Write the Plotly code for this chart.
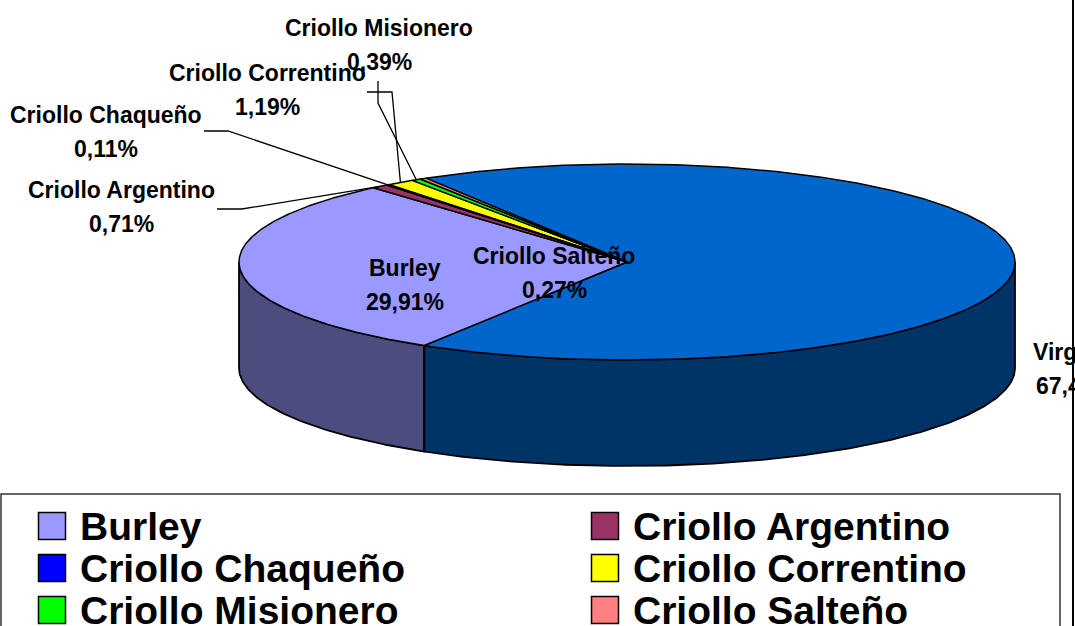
import math
import plotly.graph_objects as go

# ---------------- data ----------------
categories = ["Burley", "Criollo Argentino", "Criollo Chaqueño", "Criollo Correntino",
              "Criollo Misionero", "Criollo Salteño", "Virginia"]
shares = [29.91, 0.71, 0.11, 1.19, 0.39, 0.27, 67.42]
pct_labels = ["29,91%", "0,71%", "0,11%", "1,19%", "0,39%", "0,27%", "67,42%"]
colors = ["#9999FF", "#993366", "#0000FF", "#FFFF00", "#00FF00", "#FF8080", "#0066CC"]

# ---------------- style / layout constants ----------------
W, H = 1075, 626
CX, CY, RX, RY, DEPTH = 627, 262, 388, 98, 106
START_DEG = 121.5          # angle of first slice (screen, clockwise)
FONT = "Liberation Sans, Arial, sans-serif"
LBL_SIZE = 23
LEG_SIZE = 39

# label anchor (center of name line) and leader path start points
label_pos = {
    "Burley": None,  # inside
    "Criollo Argentino": (121, 190),
    "Criollo Chaqueño": (106, 115),
    "Criollo Correntino": (267, 73),
    "Criollo Misionero": (379, 28),
    "Criollo Salteño": (554, 256),
    "Virginia": (1075, 352),
}
leader_start = {
    "Criollo Argentino": [(217, 209), (242, 209)],
    "Criollo Chaqueño": [(204, 131), (228, 131)],
    "Criollo Correntino": [(367, 92), (392, 92)],
    "Criollo Misionero": [(378, 81), (378, 103)],
    "Criollo Salteño": [(538, 299)],
}


def shade(hx, f=0.5):
    hx = hx.lstrip("#")
    r, g, b = (int(hx[i:i + 2], 16) for i in (0, 2, 4))
    return "#%02X%02X%02X" % (int(r * f), int(g * f), int(b * f))


def pt(t, r=1.0, dy=0.0):
    a = math.radians(t)
    return CX + r * RX * math.cos(a), CY + r * RY * math.sin(a) + dy


def arc(a, b, r=1.0, dy=0.0, step=0.5):
    n = max(2, int(abs(b - a) / step) + 2)
    return [pt(a + (b - a) * i / (n - 1), r, dy) for i in range(n)]


total = sum(shares)
spans = []
acc = START_DEG
for s in shares:
    sp = s / total * 360.0
    spans.append((acc, acc + sp))
    acc += sp

fig = go.Figure()


def poly(points, fill, lw=1.8):
    xs = [p[0] for p in points] + [points[0][0]]
    ys = [p[1] for p in points] + [points[0][1]]
    fig.add_trace(go.Scatter(x=xs, y=ys, mode="lines", fill="toself", fillcolor=fill,
                             line=dict(color="black", width=lw), hoverinfo="skip",
                             showlegend=False))


# side walls (front half only)
for (a, b), col in zip(spans, colors):
    for k in range(-1, 3):
        lo = max(a, k * 360.0)
        hi = min(b, k * 360.0 + 180.0)
        if hi > lo:
            top = arc(lo, hi)
            bot = arc(hi, lo, dy=DEPTH)
            poly(top + bot, shade(col, 0.5))

# top faces
order = sorted(range(len(shares)), key=lambda i: -shares[i])
for i in order:
    a, b = spans[i]
    poly([(CX, CY)] + arc(a, b, step=0.25), colors[i], lw=1.5)

# leader lines
for i, name in enumerate(categories):
    if name not in leader_start:
        continue
    a, b = spans[i]
    if name == "Criollo Salteño":
        end = (CX, CY)
    else:
        end = pt((a + b) / 2.0)
    path = leader_start[name] + [end]
    fig.add_trace(go.Scatter(x=[p[0] for p in path], y=[p[1] for p in path], mode="lines",
                             line=dict(color="black", width=1.3), hoverinfo="skip",
                             showlegend=False))

annotations = []


def text(x, y, s, size, anchor="center"):
    annotations.append(dict(x=x, y=y, xref="x", yref="y", text="<b>%s</b>" % s,
                            showarrow=False, xanchor=anchor, yanchor="middle",
                            font=dict(family=FONT, size=size, color="black")))


# data labels
for i, name in enumerate(categories):
    pos = label_pos[name]
    if pos is None:
        a, b = spans[i]
        x, y = pt((a + b) / 2.0, 0.57)
        pos = (x - 2, y + 1.5)
    text(pos[0], pos[1], name, LBL_SIZE)
    text(pos[0], pos[1] + 34, pct_labels[i], LBL_SIZE)

# legend (custom, two columns)
LEG_X0, LEG_COLW, LEG_Y0, LEG_ROWH = 52, 553, 526, 42
for i, name in enumerate(categories):
    col, row = i % 2, i // 2
    x = LEG_X0 + col * LEG_COLW
    y = LEG_Y0 + row * LEG_ROWH
    fig.add_trace(go.Scatter(x=[x], y=[y], mode="markers",
                             marker=dict(symbol="square", size=27, color=colors[i],
                                         line=dict(color="black", width=1.5)),
                             hoverinfo="skip", showlegend=False))
    text(x + 26, y, name, LEG_SIZE, anchor="left")

shapes = [
    dict(type="rect", xref="x", yref="y", x0=1, x1=1060, y0=494, y1=640,
         line=dict(color="#333333", width=1.5)),
    dict(type="line", xref="x", yref="y", x0=1073, x1=1073, y0=0, y1=H,
         line=dict(color="black", width=2)),
]

fig.update_layout(
    width=W, height=H,
    margin=dict(l=0, r=0, t=0, b=0),
    paper_bgcolor="white", plot_bgcolor="white",
    xaxis=dict(range=[0, W], visible=False, fixedrange=True),
    yaxis=dict(range=[H, 0], visible=False, fixedrange=True),
    annotations=annotations,
    shapes=shapes,
    showlegend=False,
)

fig.write_html("out.html", config={"displayModeBar": False},
               post_script="document.body.style.margin='0px';document.body.style.overflow='hidden';")
